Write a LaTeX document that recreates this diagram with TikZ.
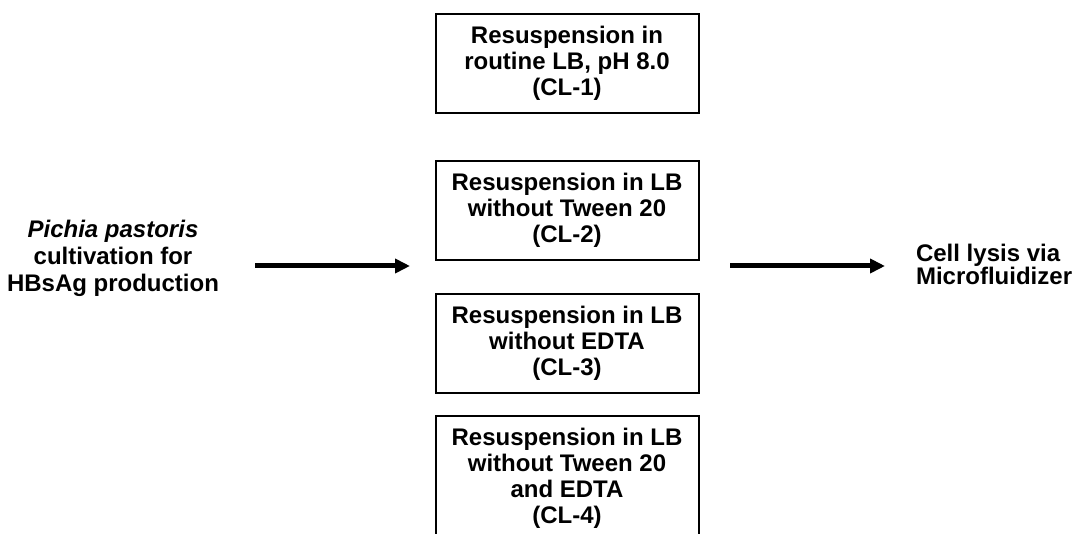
\documentclass[tikz,border=0pt]{standalone}
\usepackage{fontspec}
\setmainfont{Liberation Sans}
\usetikzlibrary{positioning}
\usetikzlibrary{arrows.meta}
\tikzset{	node distance=10pt,
	every node/.style={
		font=\bfseries\fontsize{12}{13}\selectfont,
		align=center},
	stepbox/.style={
		draw,
		line width=1pt,
		minimum width=131.5pt,
		minimum height=49.5pt,
		inner sep=0pt},
	flow/.style={
		-{Triangle[length=7.5pt,width=7pt]},
		line width=2.5pt}
}

\begin{document}
\begin{tikzpicture}[x=0.5pt, y=-0.5pt]
					\useasboundingbox (0,0) rectangle (1077,534);
					\node[stepbox] (B1) at (567,63.5) {Resuspension in\\routine LB, pH 8.0\\(CL-1)};
					\node[stepbox, below=23pt of B1] (B2) {Resuspension in LB\\without Tween 20\\(CL-2)};
					\node[stepbox, below=16pt of B2] (B3) {Resuspension in LB\\without EDTA\\(CL-3)};
					\node[stepbox, below=10.5pt of B3, minimum height=62pt] (B4) {Resuspension in LB\\without Tween 20\\and EDTA\\(CL-4)};
					\node[font=\bfseries\fontsize{12}{13.5}\selectfont] (Src) at (113,258) {\textit{Pichia pastoris}\\cultivation for\\HBsAg production};
					\node[anchor=west, align=left, font=\bfseries\fontsize{12}{11.5}\selectfont] (Lysis) at (909,264.5) {Cell lysis via\\Microfluidizer};
					\coordinate (A1s) at (255,266);
					\coordinate (A1e) at (410,266);
					\coordinate (A2s) at (730,266);
					\coordinate (A2e) at (885,266);
					\draw[flow] (A1s) -- (A1e);
					\draw[flow] (A2s) -- (A2e);
				\end{tikzpicture}
\end{document}
